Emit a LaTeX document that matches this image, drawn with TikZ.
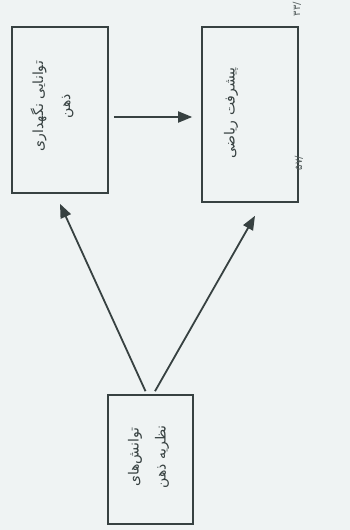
\documentclass[tikz,border=0pt]{standalone}
\usepackage{fontspec}
\usetikzlibrary{arrows.meta}
\TeXXeTstate=1
\newfontfamily\fafont[Script=Arabic]{DejaVu Sans}
\definecolor{paper}{RGB}{239,243,243}
\definecolor{ink}{RGB}{55,65,65}
\tikzset{
  box/.style={draw=ink, line width=1.6pt, inner sep=0pt},
  label/.style={rotate=90, text=ink, align=center, inner sep=0pt,
    font=\fafont\fontsize{14}{27}\selectfont},
  pagemark/.style={rotate=90, text=ink!85, inner sep=0pt,
    font=\fafont\fontsize{10}{11}\selectfont},
  arr/.style={draw=ink, line width=1.8pt, -{Triangle[length=14pt,width=11pt]}}
}
\begin{document}
\begin{tikzpicture}[x=1pt, y=-1pt]
  % sheet
  \fill[paper] (0,0) rectangle (350,530);
  \useasboundingbox (0,0) rectangle (350,530);

  % boxes
  \node[box, minimum width=96pt, minimum height=166pt] (A) at (60,110) {};
  \node[box, minimum width=96pt, minimum height=175pt] (B) at (250,114.5) {};
  \node[box, minimum width=85pt, minimum height=129pt] (C) at (150.5,459.5) {};

  % box texts
  \node[label] (tA) at (52,106) {\beginR توانایی نگهداری\endR\\\beginR ذهن\endR};
  \node[label] (tB) at (231,113) {\beginR پیشرفت ریاضی\endR};
  \node[label] (tC) at (148.5,457) {\beginR توانش‌های\endR\\\beginR نظریه ذهن\endR};

  % margin page references
  \node[pagemark] (p1) at (297,9) {/۳۳};
  \node[pagemark] (p2) at (299,163) {/۵۷};

  % connectors
  \draw[arr, shorten <=5pt, shorten >=9pt] (A.east |- 0,117) -- (B.west |- 0,117);
  \draw[arr] ([xshift=-5pt,yshift=3pt]C.north) -- ([yshift=-10pt]A.south);
  \draw[arr] ([xshift=4.5pt,yshift=3pt]C.north) -- ([xshift=5pt,yshift=-13pt]B.south);
\end{tikzpicture}
\end{document}
